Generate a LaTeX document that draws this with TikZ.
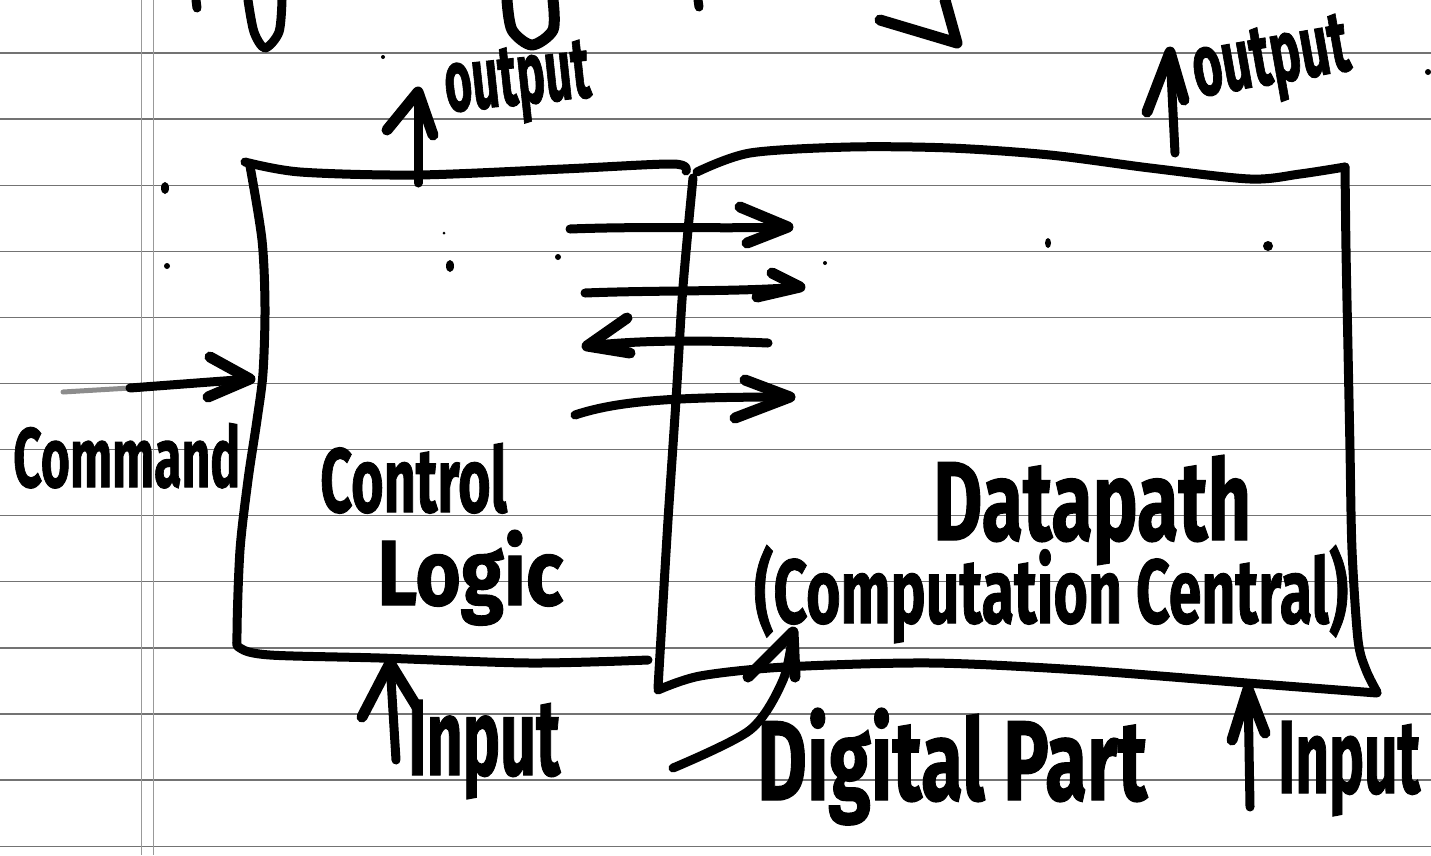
\documentclass[tikz,border=0pt]{standalone}
\usepackage{fontspec}
\newfontfamily\hand{Fira Sans}[BoldFeatures={FakeBold=1.2}]
% hand lettering: text squeezed into a given width and height (in pt)
\newcommand{\scribble}[3]{\resizebox{#1pt}{#2pt}{\fontsize{40}{48}\selectfont\hand\bfseries #3}}

\begin{document}
\begin{tikzpicture}[x=1pt,y=-1pt,
  pen/.style={line width=9pt, line cap=round, line join=round},
  heavy/.style={line width=11pt, line cap=round, line join=round},
  rule/.style={line width=1.3pt, black!55},
  margin/.style={line width=1pt, black!40},
  label/.style={inner sep=0pt, anchor=base west},
  speck/.style={fill=black}]

\useasboundingbox[fill=white] (0,0) rectangle (1431,855);

% ruled notebook paper
\foreach \k in {0,...,12}
  \draw[rule] (0,{53+66.1*\k}) -- (1431,{53+66.1*\k});
\draw[margin] (141,0) -- (141,855);
\draw[margin] (153,0) -- (153,855);

% cut-off strokes of the heading above
\draw[pen] (196,0) -- (197,8);
\draw[pen] plot[smooth] coordinates {(248,0) (254,32) (265,48) (279,32) (282,0)};
\draw[heavy] plot[smooth] coordinates {(507,0) (512,30) (532,45) (553,30) (553,0)};
\draw[pen] (698,0) -- (699,7);
\draw[heavy] (945,0) -- (957,43) -- (880,20);

% ink specks
\fill[speck] (165,188) ellipse (4 and 6);
\fill[speck] (167,266) circle (3);
\fill[speck] (450,266) ellipse (4 and 6);
\fill[speck] (558,257) circle (3);
\fill[speck] (1048,243) ellipse (3 and 5);
\fill[speck] (1268,246) circle (5);
\fill[speck] (1428,72) circle (3);
\fill[speck] (383,57) circle (2);
\fill[speck] (825,263) circle (2);
\fill[speck] (444,233) circle (1.5);

% Control Logic box
\draw[pen] plot[smooth] coordinates {(245,162) (300,172) (417,175) (563,169) (673,164) (686,171)};
\draw[pen] plot[smooth] coordinates {(250,166) (262,240) (265,307) (263,373) (257,420) (248,480) (240,550) (237,633) (240,648) (270,655) (380,658) (530,663) (648,660)};

% shared border
\draw[pen] plot[smooth] coordinates {(693,178) (688,230) (682,300) (676,400) (668,520) (662,620) (658,688)};

% Datapath box
\draw[pen] plot[smooth] coordinates {(697,172) (750,153) (850,147) (950,148) (1050,155) (1150,168) (1250,179) (1300,174) (1345,167)};
\draw[pen] plot[smooth] coordinates {(1345,167) (1346,250) (1348,350) (1350,450) (1352,550) (1358,640) (1366,670) (1377,692)};
\draw[pen] plot[smooth] coordinates {(658,690) (700,676) (785,667) (931,663) (1080,670) (1247,683) (1377,693)};

% labels
\node[label] (cmd) at (13,487) {\scribble{227}{64}{Command}};
\node[label] (ctrl) at (320,512) {\scribble{187}{69}{Control}};
\node[label] (logic) at (377,605) {\scribble{186}{75}{Logic}};
\node[label] (dp) at (933,540) {\scribble{318}{85}{Datapath}};
\node[label] (comp) at (754,623) {\scribble{594}{78}{(Computation Central)}};
\node[label, rotate=6] (outA) at (447,112) {\scribble{146}{58}{output}};
\node[label, rotate=10] (outB) at (1197,97) {\scribble{158}{58}{output}};
\node[label] (inA) at (408,775) {\scribble{152}{75}{Input}};
\node[label] (inB) at (1278,793) {\scribble{142}{72}{Input}};
\node[label] (dig) at (757,800) {\scribble{390}{92}{Digital Part}};

% command input
\coordinate (cmdTail) at (63,392);
\coordinate (cmdTip) at (250,379);
\draw[line width=5pt, black!45, line cap=round] (cmdTail) -- (130,388);
\draw[pen] (130,388) -- (cmdTip);
\draw[heavy] (210,357) -- (cmdTip) -- (208,397);

% outputs
\coordinate (oA0) at (418,183); \coordinate (oA1) at (418,92);
\draw[pen] (oA0) -- (oA1);
\draw[heavy] (387,130) -- (oA1) -- (433,135);
\coordinate (oB0) at (1175,153); \coordinate (oB1) at (1170,52);
\draw[pen] (oB0) -- (oB1);
\draw[heavy] (1147,112) -- (oB1) -- (1184,100);

% inputs
\coordinate (iA0) at (396,760); \coordinate (iA1) at (390,663);
\draw[pen] (iA0) -- (iA1);
\draw[heavy] (362,717) -- (iA1) -- (417,707);
\coordinate (iB0) at (1250,807); \coordinate (iB1) at (1248,689);
\draw[pen] (iB0) -- (iB1);
\draw[heavy] (1232,740) -- (iB1) -- (1265,733);

% signals between control and datapath
\coordinate (s1a) at (570,229); \coordinate (s1b) at (788,227);
\draw[pen] (s1a) .. controls (650,226) and (720,229) .. (s1b);
\draw[heavy] (740,207) -- (s1b) -- (747,243);
\coordinate (s2a) at (585,293); \coordinate (s2b) at (800,287);
\draw[pen] (s2a) .. controls (660,290) and (740,292) .. (s2b);
\draw[heavy] (772,273) -- (s2b) -- (757,297);
\coordinate (s3a) at (768,343); \coordinate (s3b) at (587,346);
\draw[pen] (s3a) .. controls (700,340) and (640,340) .. (s3b);
\draw[heavy] (627,318) -- (s3b) -- (630,353);
\coordinate (s4a) at (575,415); \coordinate (s4b) at (790,397);
\draw[pen] (s4a) .. controls (620,400) and (680,397) .. (s4b);
\draw[heavy] (745,380) -- (s4b) -- (735,418);

% pointer to the digital part
\coordinate (dpTail) at (673,768); \coordinate (dpTip) at (793,632);
\draw[pen] plot[smooth] coordinates {(dpTail) (750,730) (783,680) (dpTip)};
\draw[heavy] (748,677) -- (dpTip) -- (795,677);
\end{tikzpicture}
\end{document}
